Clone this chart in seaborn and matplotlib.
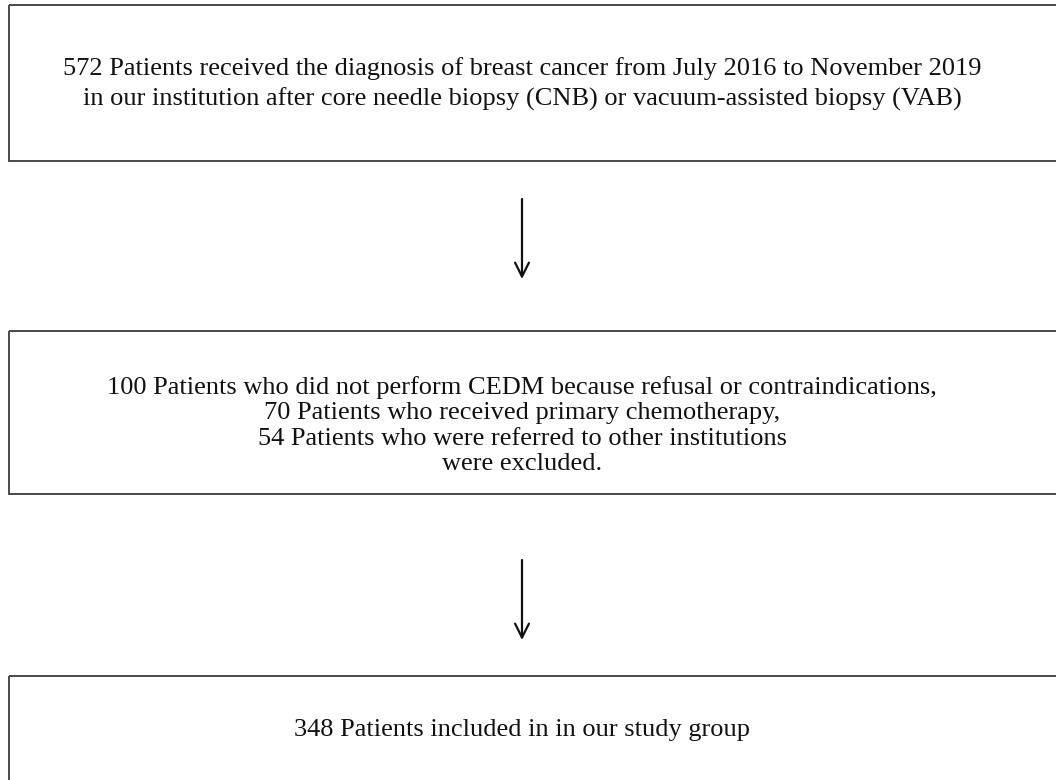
import matplotlib.pyplot as plt
import matplotlib.patches as mpatches
import seaborn as sns

sns.set_style("white")
plt.rcParams['font.family'] = ['Liberation Serif', 'DejaVu Serif']

box1_lines = ["572 Patients received the diagnosis of breast cancer from July 2016 to November 2019",
              "in our institution after core needle biopsy (CNB) or vacuum-assisted biopsy (VAB)"]
box2_lines = ["100 Patients who did not perform CEDM because refusal or contraindications,",
              "70 Patients who received primary chemotherapy,",
              "54 Patients who were referred to other institutions",
              "were excluded."]
box3_lines = ["348 Patients included in in our study group"]

# box geometry in pixels: (top, bottom, first text line y, line spacing)
boxes = [(5, 161, 69, 30, box1_lines),
         (331, 494, 388, 25.5, box2_lines),
         (676, 800, 730, 25, box3_lines)]
arrows = [(199, 279), (560, 640)]

fig = plt.figure(figsize=(10.56, 7.80), dpi=100)
ax = fig.add_axes([0, 0, 1, 1])
ax.set_xlim(0, 1056)
ax.set_ylim(780, 0)
ax.axis('off')

for top, bottom, y0, dy, lines in boxes:
    ax.add_patch(mpatches.Rectangle((9, top), 1100, bottom - top, fill=False,
                                    edgecolor='#3a3a3a', linewidth=1.3))
    for i, line in enumerate(lines):
        ax.text(522, y0 + i * dy, line, ha='center', va='center',
                fontsize=19, color='#111111')

for y_start, y_end in arrows:
    ax.annotate('', xy=(522, y_end), xytext=(522, y_start),
                arrowprops=dict(arrowstyle='->,head_length=1.0,head_width=0.5',
                                color='#111111', lw=1.6, shrinkA=0, shrinkB=0))

fig.savefig('out.png', dpi=100, facecolor='white')
